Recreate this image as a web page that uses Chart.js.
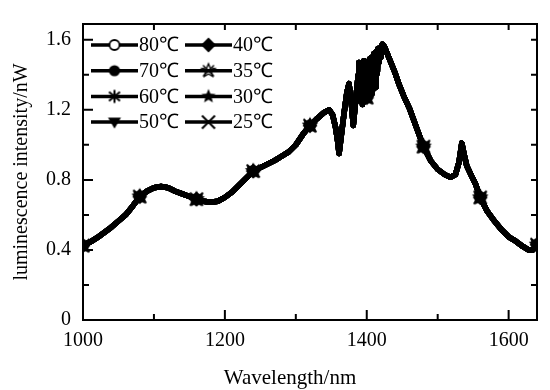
<!DOCTYPE html>
<html lang="en">
<head>
<meta charset="UTF-8">
<title>Luminescence spectra</title>
<script src="https://cdn.jsdelivr.net/npm/chart.js"></script>
<style>
  body { margin: 0; background: #fff; }
  #wrap { width: 550px; height: 390px; position: relative; }
</style>
</head>
<body>
<div id="wrap"><canvas id="myChart"></canvas></div>
<script>
// series names (temperature)
const temps = ['80℃', '70℃', '60℃', '50℃', '40℃', '35℃', '30℃', '25℃'];

// wavelength (nm) and luminescence intensity (nW)
const wavelengths = [
  1000, 1010, 1020, 1030, 1040, 1050, 1060, 1070, 1080, 1090,
  1100, 1110, 1120, 1130, 1140, 1150, 1160, 1170, 1180, 1190,
  1200, 1210, 1220, 1230, 1240, 1250, 1260, 1270, 1280, 1290,
  1300, 1310, 1320, 1330, 1340, 1347, 1352, 1356, 1359, 1361,
  1364, 1368, 1372, 1375, 1378, 1381, 1385, 1388, 1389, 1390,
  1391, 1392, 1393, 1394, 1395, 1396, 1397, 1398, 1399, 1400,
  1401, 1402, 1403, 1404, 1405, 1406, 1407, 1408, 1409, 1410,
  1411, 1412, 1413, 1414, 1415, 1416, 1417, 1418, 1419, 1420,
  1422, 1425, 1428, 1432, 1440, 1446, 1452, 1460, 1470, 1480,
  1490, 1500, 1510, 1518, 1525, 1530, 1534, 1537, 1541, 1548,
  1553, 1560, 1570, 1580, 1590, 1600, 1610, 1620, 1628, 1634,
  1640
];
const intensity = [
  0.425, 0.445, 0.47, 0.50, 0.53, 0.565, 0.60, 0.65, 0.705, 0.735,
  0.755, 0.762, 0.755, 0.735, 0.72, 0.705, 0.69, 0.678, 0.672, 0.678,
  0.70, 0.73, 0.77, 0.81, 0.85, 0.87, 0.89, 0.91, 0.935, 0.96,
  1.00, 1.06, 1.11, 1.15, 1.185, 1.20, 1.17, 1.10, 1.02, 0.95,
  1.05, 1.18, 1.30, 1.35, 1.25, 1.11, 1.28, 1.40, 1.47, 1.28,
  1.25, 1.45, 1.46, 1.23, 1.30, 1.48, 1.40, 1.25, 1.36, 1.27,
  1.47, 1.30, 1.27, 1.49, 1.44, 1.29, 1.50, 1.36, 1.32, 1.52,
  1.46, 1.33, 1.53, 1.40, 1.42, 1.55, 1.47, 1.52, 1.55, 1.50,
  1.575, 1.56, 1.53, 1.49, 1.41, 1.34, 1.28, 1.21, 1.10, 0.99,
  0.91, 0.86, 0.83, 0.815, 0.83, 0.90, 1.01, 0.95, 0.88, 0.82,
  0.78, 0.70, 0.62, 0.565, 0.515, 0.475, 0.45, 0.42, 0.40, 0.40,
  0.43
];

// wavelengths where the symbols sit
const markerAt = [1000, 1080, 1160, 1240, 1320, 1400, 1480, 1560, 1640];

const xTicks = [1000, 1200, 1400, 1600];
const yTicks = [0, 0.4, 0.8, 1.2, 1.6];

const FONT = "'Liberation Serif', 'Times New Roman', serif";

// marker glyphs
function mk(draw) {
  const c = document.createElement('canvas');
  c.width = 20; c.height = 20;
  const g = c.getContext('2d');
  g.translate(10, 10);
  g.strokeStyle = '#000'; g.fillStyle = '#000'; g.lineWidth = 1.8;
  draw(g);
  return c;
}
function starPath(g, ro, ri) {
  g.beginPath();
  for (let i = 0; i < 10; i++) {
    const r = i % 2 ? ri : ro;
    const a = -Math.PI / 2 + i * Math.PI / 5;
    g.lineTo(r * Math.cos(a), r * Math.sin(a));
  }
  g.closePath();
}
const markers = [
  mk(g => { g.beginPath(); g.arc(0, 0, 5, 0, 2 * Math.PI); g.fillStyle = '#fff'; g.fill(); g.stroke(); }),
  mk(g => { g.beginPath(); g.arc(0, 0, 5.6, 0, 2 * Math.PI); g.fill(); }),
  mk(g => {
    g.lineWidth = 2;
    g.beginPath();
    g.moveTo(0, -6.5); g.lineTo(0, 6.5);
    g.moveTo(-5.5, -4.5); g.lineTo(5.5, 4.5);
    g.moveTo(-5.5, 4.5); g.lineTo(5.5, -4.5);
    g.stroke();
  }),
  mk(g => { g.beginPath(); g.moveTo(-6.5, -4.5); g.lineTo(6.5, -4.5); g.lineTo(0, 6.5); g.closePath(); g.fill(); }),
  mk(g => { g.beginPath(); g.moveTo(0, -7.5); g.lineTo(7.5, 0); g.lineTo(0, 7.5); g.lineTo(-7.5, 0); g.closePath(); g.fill(); }),
  mk(g => {
    g.lineWidth = 1.4;
    starPath(g, 7, 3.2); g.stroke();
    g.beginPath(); g.moveTo(-5.5, -5.5); g.lineTo(5.5, 5.5); g.moveTo(-5.5, 5.5); g.lineTo(5.5, -5.5); g.stroke();
  }),
  mk(g => { starPath(g, 7.5, 3.3); g.fill(); }),
  mk(g => {
    g.lineWidth = 2;
    g.beginPath(); g.moveTo(-6.5, -6.5); g.lineTo(6.5, 6.5); g.moveTo(-6.5, 6.5); g.lineTo(6.5, -6.5); g.stroke();
  })
];

const points = wavelengths.map((w, i) => ({ x: w, y: intensity[i] }));

// first series at the bottom, last on top
const datasets = temps.map((t, k) => ({
  label: t,
  data: points,
  order: -k,
  borderColor: '#000',
  backgroundColor: '#000',
  borderWidth: 5.5,
  borderJoinStyle: 'round',
  borderCapStyle: 'round',
  tension: 0,
  pointStyle: markers[k],
  pointRadius: ctx => markerAt.includes(wavelengths[ctx.dataIndex]) ? 6 : 0
}));

// frame, inward ticks, legend and x title
const decor = {
  id: 'decor',
  afterDraw(chart) {
    const { ctx, chartArea: a, scales: { x, y } } = chart;
    ctx.save();
    ctx.strokeStyle = '#000';
    ctx.lineWidth = 2;
    ctx.strokeRect(a.left, a.top, a.right - a.left, a.bottom - a.top);
    ctx.beginPath();
    for (let w = 1000; w <= 1600; w += 100) {
      const px = x.getPixelForValue(w);
      const len = w % 200 === 0 ? 10 : 6;
      ctx.moveTo(px, a.bottom); ctx.lineTo(px, a.bottom - len);
      if (w > 1000) { ctx.moveTo(px, a.top); ctx.lineTo(px, a.top + 6); }
    }
    for (let i = 1; i <= 8; i++) {
      const v = i * 0.2;
      const py = y.getPixelForValue(v);
      const len = i % 2 === 0 ? 10 : 6;
      ctx.moveTo(a.left, py); ctx.lineTo(a.left + len, py);
      ctx.moveTo(a.right, py); ctx.lineTo(a.right - 6, py);
    }
    ctx.stroke();

    // legend, two columns of four
    ctx.font = '20px ' + FONT;
    ctx.fillStyle = '#000';
    ctx.textBaseline = 'middle';
    ctx.textAlign = 'left';
    ctx.lineWidth = 3.5;
    temps.forEach((t, k) => {
      const col = Math.floor(k / 4), row = k % 4;
      const x0 = col === 0 ? 91 : 185;
      const yy = 45 + row * 25.7;
      ctx.beginPath(); ctx.moveTo(x0, yy); ctx.lineTo(x0 + 47, yy); ctx.stroke();
      const m = markers[k];
      ctx.drawImage(m, x0 + 23.5 - m.width / 2, yy - m.height / 2);
      ctx.fillText(t, x0 + 48, yy + 1);
    });

    ctx.font = '21px ' + FONT;
    ctx.textAlign = 'center';
    ctx.fillText('Wavelength/nm', 290, 378);
    ctx.restore();
  }
};

const config = {
  type: 'line',
  data: { datasets: datasets },
  options: {
    responsive: true,
    maintainAspectRatio: false,
    animation: false,
    events: [],
    layout: { padding: { top: 8, right: 13, left: 0, bottom: 0 } },
    plugins: { legend: { display: false }, tooltip: { enabled: false } },
    scales: {
      x: {
        type: 'linear',
        min: 1000,
        max: 1640,
        afterFit: s => { s.height = 70; },
        grid: { display: false, drawTicks: false },
        border: { display: false },
        ticks: {
          stepSize: 100,
          includeBounds: false,
          autoSkip: false,
          maxRotation: 0,
          padding: 9,
          color: '#000',
          font: { family: FONT, size: 20 },
          callback: v => xTicks.includes(v) ? String(v) : ''
        }
      },
      y: {
        min: 0,
        max: 1.69,
        afterFit: s => { s.width = 83; },
        grid: { display: false, drawTicks: false },
        border: { display: false },
        ticks: {
          stepSize: 0.2,
          includeBounds: false,
          autoSkip: false,
          padding: 12,
          color: '#000',
          font: { family: FONT, size: 20 },
          callback: v => {
            const r = Math.round(v * 10) / 10;
            const hit = yTicks.find(t => Math.abs(t - r) < 1e-6);
            if (hit === undefined) return '';
            return hit === 0 ? '0' : hit.toFixed(1);
          }
        },
        title: {
          display: true,
          text: 'luminescence intensity/nW',
          color: '#000',
          font: { family: FONT, size: 20 },
          padding: { top: 10, bottom: 0 }
        }
      }
    }
  },
  plugins: [decor]
};

const myChart = new Chart(document.getElementById('myChart').getContext('2d'), config);
</script>
</body>
</html>
